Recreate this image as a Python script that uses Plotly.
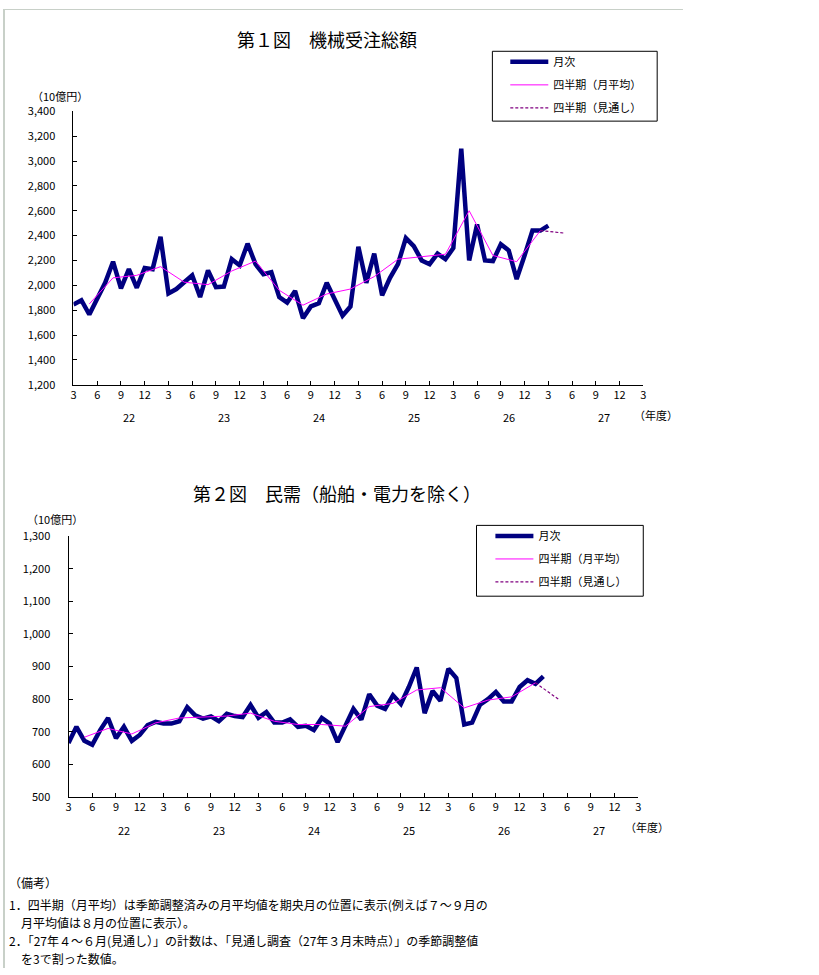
import plotly.graph_objects as go

# ---------------- data ----------------
# month index 0 = March of FY21 (平成22年3月), monthly through March FY26 (index 60)
total_monthly = [1845, 1880, 1765, 1900, 2020, 2190, 1975, 2130, 1980, 2140,
                 2130, 2390, 1935, 1970, 2030, 2080, 1905, 2120, 1985, 1990,
                 2210, 2160, 2335, 2170, 2090, 2105, 1905, 1860, 1955, 1735,
                 1830, 1855, 2020, 1880, 1755, 1830, 2310, 2020, 2255, 1920,
                 2060, 2170, 2380, 2315, 2200, 2170, 2255, 2210, 2300, 3100,
                 2200, 2490, 2200, 2195, 2330, 2280, 2050, 2240, 2440, 2440,
                 2480]
total_quarterly = [1850, 2060, 2080, 2150, 2025, 2005, 2115, 2195, 1960, 1840,
                   1930, 1970, 2070, 2210, 2230, 2250, 2600, 2240, 2190, 2440]
total_forecast = [2440, 2420]

private_monthly = [665, 715, 672, 660, 705, 742, 680, 715, 672, 690,
                   720, 730, 725, 725, 732, 775, 750, 740, 747, 732,
                   755, 748, 745, 782, 743, 760, 728, 728, 738, 715,
                   718, 705, 742, 725, 668, 720, 770, 737, 815, 780,
                   770, 812, 785, 837, 897, 757, 825, 795, 893, 865,
                   722, 728, 783, 800, 822, 793, 793, 837, 858, 847,
                   870]
private_quarterly = [683, 710, 693, 727, 742, 745, 748, 757, 732, 722,
                     722, 717, 777, 787, 828, 835, 773, 797, 807, 850]
private_forecast = [850, 798]

month_x = list(range(len(total_monthly)))                     # 0..60
quarter_x = [2 + 3 * i for i in range(len(total_quarterly))]  # mid-month of quarters
forecast_x = [quarter_x[-1], quarter_x[-1] + 3]

tick_vals = list(range(0, 73, 3))
tick_labels = ["3"] + (["6", "9", "12", "3"] * 6)
fiscal_years = ["22", "23", "24", "25", "26", "27"]
fy_center = [7 + 12 * i for i in range(len(fiscal_years))]

legend_names = ["月次", "四半期（月平均）", "四半期（見通し）"]

notes_lines = [
    "（備考）",
    "1．四半期（月平均）は季節調整済みの月平均値を期央月の位置に表示(例えば７～９月の",
    "　月平均値は８月の位置に表示）。",
    "2．「27年４～６月(見通し）」の計数は、「見通し調査（27年３月末時点）」の季節調整値",
    "　を3で割った数値。",
]

W, H = 819, 975
JP = "Noto Sans CJK JP"
NAVY = "#000080"
PINK = "#FF00FF"
PURPLE = "#800080"


def px(x):
    return x / W


def py(y):
    return 1 - y / H


fig = go.Figure()


def add_series(xa, ya, monthly, quarterly, forecast, leg):
    fig.add_trace(go.Scatter(x=month_x, y=monthly, mode="lines", name=legend_names[0],
                             line=dict(color=NAVY, width=4.5), xaxis=xa, yaxis=ya,
                             legend=leg, legendgroup="a" + leg))
    fig.add_trace(go.Scatter(x=quarter_x, y=quarterly, mode="lines", name=legend_names[1],
                             line=dict(color=PINK, width=1), xaxis=xa, yaxis=ya,
                             legend=leg, legendgroup="b" + leg))
    fig.add_trace(go.Scatter(x=forecast_x, y=forecast, mode="lines", name=legend_names[2],
                             line=dict(color=PURPLE, width=1.2, dash="3px,2px"), xaxis=xa, yaxis=ya,
                             legend=leg, legendgroup="c" + leg))


add_series("x", "y", total_monthly, total_quarterly, total_forecast, "legend")
add_series("x2", "y2", private_monthly, private_quarterly, private_forecast, "legend2")

tickfont = dict(family=JP, size=11, color="black")

xcommon = dict(range=[0, 72], tickmode="array", tickvals=tick_vals, ticktext=tick_labels,
               showgrid=False, zeroline=False, showline=True, linecolor="black", linewidth=1,
               ticks="inside", ticklen=4, tickcolor="black", tickfont=tickfont, fixedrange=True)
ycommon = dict(showgrid=False, zeroline=False, showline=True, linecolor="black", linewidth=1,
               ticks="inside", ticklen=4, tickcolor="black", tickfont=tickfont,
               tickformat=",d", ticklabelstandoff=15, fixedrange=True)

legend_common = dict(bgcolor="rgba(0,0,0,0)", borderwidth=0,
                     font=dict(family=JP, size=11, color="black"),
                     tracegroupgap=4, itemwidth=38, xanchor="left", yanchor="top",
                     traceorder="grouped")

fig.update_layout(
    width=W, height=H,
    margin=dict(l=0, r=0, t=0, b=0),
    paper_bgcolor="white", plot_bgcolor="white",
    showlegend=True,
    xaxis=dict(domain=[px(71), px(645)], anchor="y", **xcommon),
    yaxis=dict(domain=[py(382), py(104)], anchor="x", range=[1200, 3400], dtick=200, **ycommon),
    xaxis2=dict(domain=[px(66), px(640)], anchor="y2", **xcommon),
    yaxis2=dict(domain=[py(801), py(536)], anchor="x2", range=[500, 1300], dtick=100, **ycommon),
    legend=dict(x=px(506), y=py(39), **legend_common),
    legend2=dict(x=px(491), y=py(521), **legend_common),
)

# legend frames
fig.add_shape(type="rect", xref="paper", yref="paper", x0=px(493), x1=px(659), y0=py(114), y1=py(43),
              line=dict(color="black", width=1), fillcolor="rgba(0,0,0,0)", layer="below")
fig.add_shape(type="rect", xref="paper", yref="paper", x0=px(477), x1=px(645), y0=py(597), y1=py(525),
              line=dict(color="black", width=1), fillcolor="rgba(0,0,0,0)", layer="below")
# page frame remnants (light grey rules at the left and top edges)
fig.add_shape(type="line", xref="paper", yref="paper", x0=px(1), x1=px(1), y0=0, y1=1,
              line=dict(color="#c8d0c8", width=2))
fig.add_shape(type="line", xref="paper", yref="paper", x0=0, x1=px(685), y0=py(0.5), y1=py(0.5),
              line=dict(color="#c8d0c8", width=1))

ann = []


def note(text, x, y, size, xanchor="center", yanchor="middle", pad=1):
    ann.append(dict(text=text, x=px(x), y=py(y), xref="paper", yref="paper",
                    xanchor=xanchor, yanchor=yanchor, showarrow=False, borderpad=pad,
                    font=dict(family=JP, size=size, color="black")))


# titles
note("第１図　機械受注総額", 326, 30, 18)
note("第２図　民需（船舶・電力を除く）", 336, 492, 18)
# unit labels
note("（10億円）", 57, 88, 11)
note("（10億円）", 52, 519, 11)
note("（年度）", 658, 413, 11)
note("（年度）", 649, 832, 11)
# fiscal years
for fy, c in zip(fiscal_years, fy_center):
    ann.append(dict(text=fy, x=c, y=py(415), xref="x", yref="paper", xanchor="center",
                    yanchor="middle", showarrow=False, font=dict(family=JP, size=11, color="black")))
    ann.append(dict(text=fy, x=c, y=py(835), xref="x2", yref="paper", xanchor="center",
                    yanchor="middle", showarrow=False, font=dict(family=JP, size=11, color="black")))

# notes (one annotation per line)
note_y = [888, 910, 929, 947, 965]
for t, yy in zip(notes_lines, note_y):
    note(t, 5, yy, 12, xanchor="left", pad=0)

fig.update_layout(annotations=ann)

fig.write_html("out.html", config={"displayModeBar": False, "staticPlot": True},
               post_script="document.body.style.margin='0px';")
